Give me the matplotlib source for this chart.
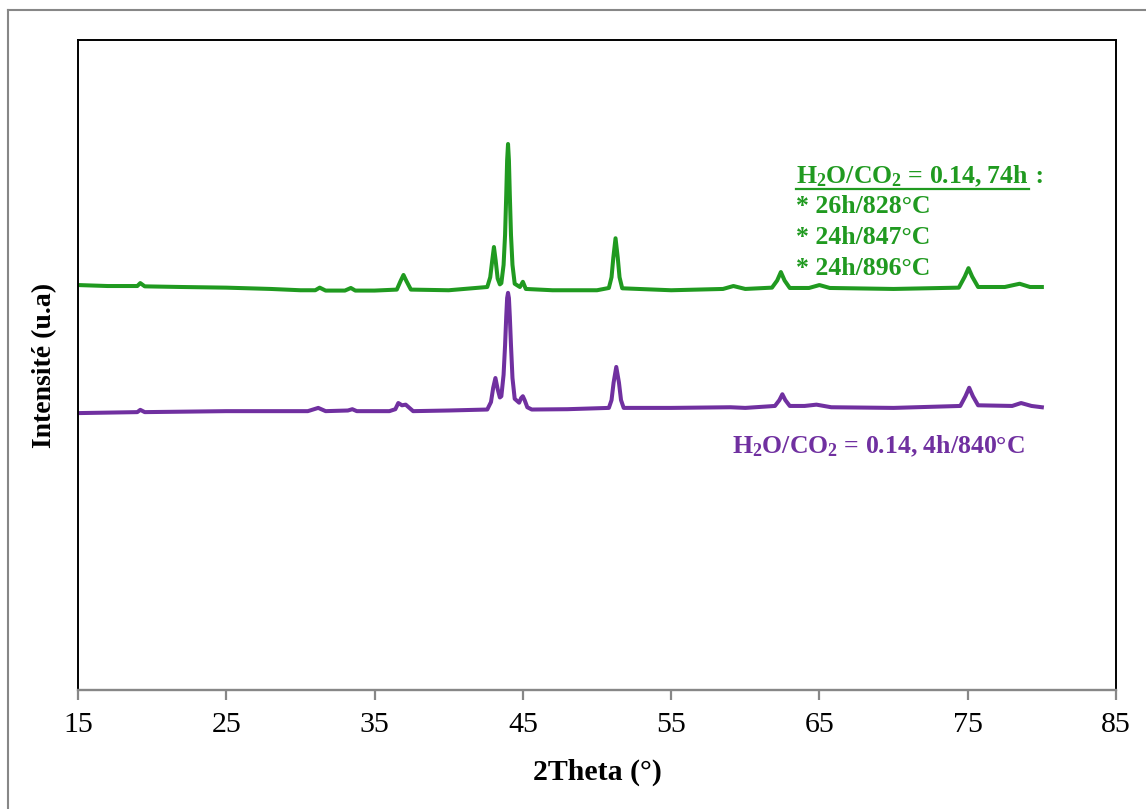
import matplotlib
matplotlib.use("Agg")
import matplotlib.pyplot as plt
from matplotlib.lines import Line2D

plt.rcParams['font.family'] = ['Liberation Serif', 'DejaVu Serif']
plt.rcParams['mathtext.fontset'] = 'custom'
plt.rcParams['mathtext.bf'] = 'Liberation Serif:bold'
plt.rcParams['mathtext.rm'] = 'Liberation Serif:bold'
plt.rcParams['mathtext.default'] = 'bf'

# Diffractogram after 74 h in H2O/CO2 = 0.14 (2theta in degrees, intensity in a.u.)
theta_74h = [15.0, 17.0, 19.0, 19.2, 19.5, 22.0, 25.0, 28.0, 30.0, 31.0, 31.3, 31.7,
             33.0, 33.4, 33.7, 35.0, 36.5, 36.75, 36.95, 37.15, 37.45, 40.0, 42.6, 42.8,
             42.93, 43.05, 43.17, 43.3, 43.45, 43.55, 43.7, 43.8, 43.88, 43.94, 44.0,
             44.06, 44.12, 44.2, 44.3, 44.45, 44.8, 45.0, 45.2, 47.0, 50.0, 50.8, 50.98,
             51.1, 51.25, 51.4, 51.52, 51.7, 55.0, 58.5, 59.2, 60.0, 61.8, 62.15, 62.4,
             62.65, 63.0, 64.3, 65.0, 65.7, 70.0, 74.4, 74.8, 75.05, 75.3, 75.7, 77.5,
             78.5, 79.2, 80.0]
inten_74h = [62.3, 62.15, 62.15, 62.6, 62.1, 62.0, 61.9, 61.7, 61.5, 61.5, 61.9, 61.45,
             61.45, 61.85, 61.45, 61.45, 61.6, 62.9, 63.85, 62.9, 61.6, 61.5, 62.0, 63.5,
             66.0, 68.15, 66.0, 63.3, 62.4, 62.6, 65.4, 70.0, 76.2, 81.5, 84.0,
             81.5, 76.2, 70.0, 65.4, 62.5, 62.0, 62.8, 61.7, 61.5, 61.5, 61.85, 63.5,
             66.5, 69.5, 66.5, 63.5, 61.8, 61.5, 61.7, 62.15, 61.7, 61.9, 63.0, 64.3,
             63.0, 61.85, 61.85, 62.3, 61.85, 61.7, 61.9, 63.6, 64.9, 63.6, 62.0, 62.0,
             62.5, 62.0, 62.0]

# Diffractogram after 4 h at 840 °C
theta_4h = [15.0, 19.0, 19.2, 19.5, 25.0, 28.0, 30.5, 31.2, 31.7, 33.2, 33.5, 33.8,
            36.0, 36.4, 36.6, 36.85, 37.1, 37.35, 37.6, 40.0, 42.6, 42.85, 43.0, 43.15,
            43.3, 43.45, 43.55, 43.7, 43.8, 43.88, 43.94, 44.0, 44.06, 44.12, 44.2,
            44.3, 44.45, 44.75, 44.88, 45.0, 45.12, 45.3, 45.6, 48.0, 50.8, 50.98, 51.12,
            51.3, 51.48, 51.62, 51.8, 55.0, 59.0, 60.0, 62.0, 62.3, 62.5, 62.7, 63.0,
            64.0, 64.8, 65.8, 70.0, 74.5, 74.85, 75.1, 75.35, 75.7, 78.0, 78.6, 79.3,
            80.0]
inten_4h = [42.6, 42.75, 43.1, 42.75, 42.9, 42.9, 42.9, 43.4, 42.9, 43.0, 43.2, 42.9,
            42.9, 43.2, 44.15, 43.8, 43.9, 43.4, 42.9, 43.0, 43.15, 44.3, 46.5, 48.0,
            46.3, 45.0, 45.2, 48.5, 53.0, 57.5, 60.3, 61.1, 60.3, 57.5, 53.0,
            48.0, 44.8, 44.2, 44.9, 45.2, 44.6, 43.5, 43.15, 43.2, 43.4, 44.6, 47.3,
            49.7, 47.3, 44.6, 43.4, 43.4, 43.5, 43.4, 43.7, 44.6, 45.5, 44.6, 43.7,
            43.7, 43.9, 43.5, 43.4, 43.7, 45.2, 46.5, 45.2, 43.8, 43.7, 44.15, 43.7,
            43.5]

x_ticks = [15, 25, 35, 45, 55, 65, 75, 85]

green = '#209A20'
purple = '#7030A0'
grey = '#878787'

fig = plt.figure(figsize=(11.46, 8.09), dpi=100)
W, H = 1146, 809
ax = fig.add_axes([78 / W, 1 - 690 / H, (1116 - 78) / W, (690 - 40) / H])

ax.plot(theta_74h, inten_74h, color=green, lw=2.9, solid_joinstyle='round')
ax.plot(theta_4h, inten_4h, color=purple, lw=2.9, solid_joinstyle='round')

ax.set_xlim(15, 85)
ax.set_ylim(0, 100)
ax.set_xticks(x_ticks)
ax.set_xticklabels([str(v) for v in x_ticks])
ax.set_yticks([])
ax.tick_params(axis='x', length=7, width=1.6, color=grey, direction='out',
               labelsize=21.5, pad=9)
for side in ('left', 'top', 'right'):
    ax.spines[side].set_color('black')
    ax.spines[side].set_linewidth(1.4)
ax.spines['bottom'].set_color(grey)
ax.spines['bottom'].set_linewidth(1.7)

ax.set_xlabel('2Theta (°)', fontsize=21.5, fontweight='bold', labelpad=15)
ax.set_ylabel('Intensité (u.a)', fontsize=20, fontweight='bold', labelpad=15)

# Annotation for the 74 h treatment
fs = 18.5
x_txt = 63.42
t1 = ax.text(x_txt, (690 - 183) / 6.5, 'H$_2$O/CO$_2$ = 0.14, 74h', color=green,
             fontsize=fs, fontweight='bold', va='baseline', ha='left')
for i, line in enumerate(['* 26h/828°C', '* 24h/847°C', '* 24h/896°C']):
    ax.text(x_txt, (690 - 213.5 - 30.7 * i) / 6.5, line, color=green, fontsize=fs,
            fontweight='bold', va='baseline', ha='left')

renderer = fig.canvas.get_renderer()
bb = t1.get_window_extent(renderer)
base_disp = ax.transData.transform((x_txt, (690 - 183) / 6.5))
y_ul = base_disp[1] - 5.5
inv = fig.transFigure.inverted()
p0 = inv.transform((bb.x0, y_ul))
p1 = inv.transform((bb.x1, y_ul))
fig.add_artist(Line2D([p0[0], p1[0]], [p0[1], p1[1]], color=green, lw=1.6))
x_colon = ax.transData.inverted().transform((bb.x1, 0))[0]
ax.text(x_colon, (690 - 183) / 6.5, ' :', color=green, fontsize=fs,
        fontweight='bold', va='baseline', ha='left')

# Annotation for the 4 h treatment
ax.text(15 + (732 - 78) / 14.829, (690 - 453) / 6.5, 'H$_2$O/CO$_2$ = 0.14, 4h/840°C',
        color=purple, fontsize=fs, fontweight='bold', va='baseline', ha='left')

# Outer frame of the chart area
fig.add_artist(Line2D([8 / W, 8 / W], [0, 1 - 10 / H], color=grey, lw=1.5))
fig.add_artist(Line2D([8 / W, 1], [1 - 10 / H, 1 - 10 / H], color=grey, lw=1.5))

fig.savefig('out.png', dpi=100)
